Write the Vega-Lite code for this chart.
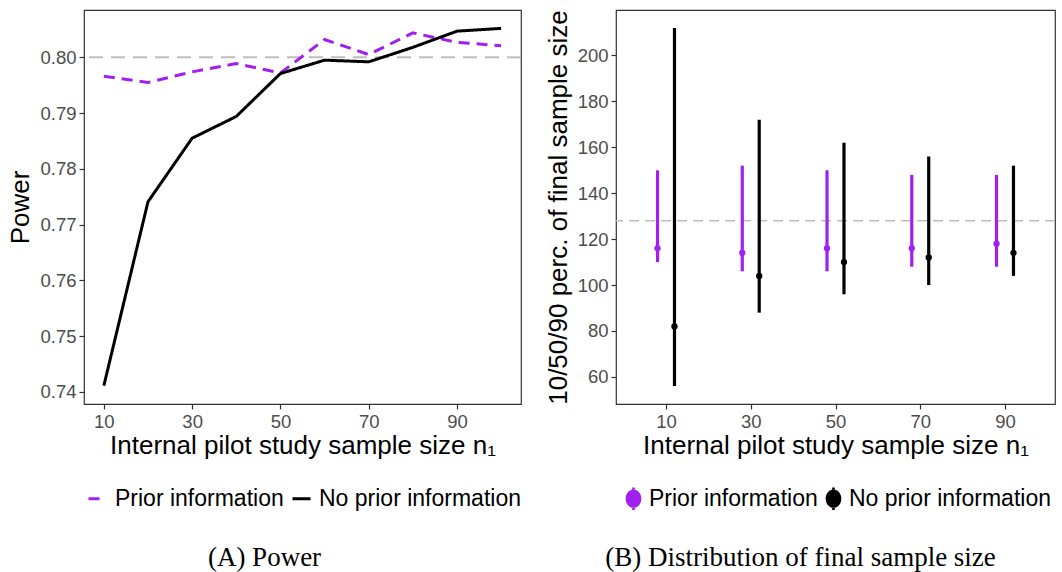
{
  "$schema": "https://vega.github.io/schema/vega-lite/v6.json",
  "autosize": {"type": "pad"},
  "padding": {"left": 7, "top": 9, "right": 0, "bottom": 0},
  "background": "white",
  "config": {
    "font": "Liberation Sans",
    "view": {"stroke": "#333333", "strokeWidth": 1.2},
    "axis": {
      "grid": false, "domain": false, "tickColor": "#333333", "tickSize": 5, "tickWidth": 1.2,
      "labelColor": "#4d4d4d", "labelFontSize": 18.5, "labelFont": "Liberation Sans", "labelPadding": 3,
      "titleColor": "#000000", "titleFontSize": 26, "titleFontWeight": "normal", "titleFont": "Liberation Sans"
    },
    "legend": {"labelFontSize": 23, "labelFont": "Liberation Sans", "labelColor": "#000000", "labelLimit": 400},
    "title": {"font": "Liberation Serif", "fontSize": 27, "fontWeight": "normal", "color": "#000000"}
  },
  "bounds": "flush",
  "spacing": 95,
  "resolve": {"scale": {"color": "independent", "strokeDash": "independent", "x": "independent", "y": "independent"}, "legend": {"color": "independent", "strokeDash": "independent"}},
  "hconcat": [
    {
      "width": 437,
      "height": 394,
      "title": {"text": "(A) Power", "orient": "bottom", "anchor": "middle", "frame": "group", "dx": -38, "offset": 34},
      "layer": [
        {
          "data": {"values": [{"ref": 0.8}]},
          "mark": {"type": "rule", "color": "#bebebe", "strokeWidth": 2, "strokeDash": [14, 8]},
          "encoding": {"y": {"field": "ref", "type": "quantitative"}}
        },
        {
          "data": {"values": [
            {"n1": 10, "power": 0.7966, "group": "Prior information"},
            {"n1": 20, "power": 0.7955, "group": "Prior information"},
            {"n1": 30, "power": 0.7974, "group": "Prior information"},
            {"n1": 40, "power": 0.7989, "group": "Prior information"},
            {"n1": 50, "power": 0.7972, "group": "Prior information"},
            {"n1": 60, "power": 0.8032, "group": "Prior information"},
            {"n1": 70, "power": 0.8005, "group": "Prior information"},
            {"n1": 80, "power": 0.8044, "group": "Prior information"},
            {"n1": 90, "power": 0.8027, "group": "Prior information"},
            {"n1": 100, "power": 0.8021, "group": "Prior information"},
            {"n1": 10, "power": 0.7411, "group": "No prior information"},
            {"n1": 20, "power": 0.7741, "group": "No prior information"},
            {"n1": 30, "power": 0.7855, "group": "No prior information"},
            {"n1": 40, "power": 0.7894, "group": "No prior information"},
            {"n1": 50, "power": 0.7971, "group": "No prior information"},
            {"n1": 60, "power": 0.7995, "group": "No prior information"},
            {"n1": 70, "power": 0.7992, "group": "No prior information"},
            {"n1": 80, "power": 0.8018, "group": "No prior information"},
            {"n1": 90, "power": 0.8047, "group": "No prior information"},
            {"n1": 100, "power": 0.8052, "group": "No prior information"}
          ]},
          "mark": {"type": "line", "strokeWidth": 3},
          "encoding": {
            "x": {"field": "n1", "type": "quantitative", "scale": {"domain": [5.5, 104.5], "nice": false, "zero": false},
                  "axis": {"values": [10, 30, 50, 70, 90], "title": "Internal pilot study sample size n₁", "titlePadding": 2}},
            "y": {"field": "power", "type": "quantitative", "scale": {"domain": [0.7378, 0.8085], "nice": false, "zero": false},
                  "axis": {"values": [0.74, 0.75, 0.76, 0.77, 0.78, 0.79, 0.80], "format": ".2f", "title": "Power", "titlePadding": 6}},
            "color": {"field": "group", "type": "nominal",
                      "scale": {"domain": ["Prior information", "No prior information"], "range": ["#a020f0", "#000000"]},
                      "legend": {"title": null, "orient": "none", "legendX": 2, "legendY": 477, "direction": "horizontal", "symbolType": "stroke", "symbolStrokeWidth": 3, "symbolSize": 324, "columnPadding": 2, "labelOffset": 6}},
            "strokeDash": {"field": "group", "type": "nominal",
                           "scale": {"domain": ["Prior information", "No prior information"], "range": [[11, 7], [1, 0]]},
                           "legend": {"title": null, "orient": "none", "legendX": 2, "legendY": 477, "direction": "horizontal", "symbolType": "stroke", "symbolStrokeWidth": 3, "symbolSize": 324, "columnPadding": 2, "labelOffset": 6}}
          }
        }
      ]
    },
    {
      "width": 439,
      "height": 394,
      "title": {"text": "(B) Distribution of final sample size", "orient": "bottom", "anchor": "middle", "frame": "group", "dx": -35, "offset": 34},
      "layer": [
        {
          "data": {"values": [{"ref": 128}]},
          "mark": {"type": "rule", "color": "#bebebe", "strokeWidth": 1.5, "strokeDash": [10, 6]},
          "encoding": {"y": {"field": "ref", "type": "quantitative"}}
        },
        {
          "data": {"name": "dist"},
          "mark": {"type": "rule", "strokeWidth": 3.2},
          "encoding": {
            "x": {"field": "pos", "type": "quantitative", "scale": {"domain": [-1.8, 101.8], "nice": false, "zero": false},
                  "axis": {"values": [10, 30, 50, 70, 90], "title": "Internal pilot study sample size n₁", "titlePadding": 2}},
            "y": {"field": "lo", "type": "quantitative", "scale": {"domain": [48.2, 219.8], "nice": false, "zero": false},
                  "axis": {"values": [60, 80, 100, 120, 140, 160, 180, 200], "title": "10/50/90 perc. of final sample size", "titlePadding": 6}},
            "y2": {"field": "hi"},
            "color": {"field": "group", "type": "nominal",
                      "scale": {"domain": ["Prior information", "No prior information"], "range": ["#a020f0", "#000000"]},
                      "legend": {"title": null, "orient": "none", "legendX": 6, "legendY": 477, "direction": "horizontal",
                                 "symbolType": "M-0.7,0A0.7,0.82 0 1 0 0.7,0A0.7,0.82 0 1 0 -0.7,0ZM-0.12,-1H0.12V-0.8H-0.12ZM-0.12,0.8H0.12V1H-0.12Z", "symbolSize": 500, "symbolStrokeWidth": 0, "symbolOpacity": 1, "columnPadding": 4, "labelOffset": 4}}
          }
        },
        {
          "data": {"name": "dist"},
          "mark": {"type": "point", "filled": true, "size": 40, "opacity": 1},
          "encoding": {
            "x": {"field": "pos", "type": "quantitative"},
            "y": {"field": "med", "type": "quantitative"},
            "color": {"field": "group", "type": "nominal",
                      "scale": {"domain": ["Prior information", "No prior information"], "range": ["#a020f0", "#000000"]},
                      "legend": {"title": null, "orient": "none", "legendX": 6, "legendY": 477, "direction": "horizontal",
                                 "symbolType": "M-0.7,0A0.7,0.82 0 1 0 0.7,0A0.7,0.82 0 1 0 -0.7,0ZM-0.12,-1H0.12V-0.8H-0.12ZM-0.12,0.8H0.12V1H-0.12Z", "symbolSize": 500, "symbolStrokeWidth": 0, "symbolOpacity": 1, "columnPadding": 4, "labelOffset": 4}}
          }
        }
      ]
    }
  ],
  "datasets": {
    "dist": [
      {"n1": 10, "pos": 8, "group": "Prior information", "lo": 110, "med": 116, "hi": 150},
      {"n1": 10, "pos": 12, "group": "No prior information", "lo": 56, "med": 82, "hi": 212},
      {"n1": 30, "pos": 28, "group": "Prior information", "lo": 106, "med": 114, "hi": 152},
      {"n1": 30, "pos": 32, "group": "No prior information", "lo": 88, "med": 104, "hi": 172},
      {"n1": 50, "pos": 48, "group": "Prior information", "lo": 106, "med": 116, "hi": 150},
      {"n1": 50, "pos": 52, "group": "No prior information", "lo": 96, "med": 110, "hi": 162},
      {"n1": 70, "pos": 68, "group": "Prior information", "lo": 108, "med": 116, "hi": 148},
      {"n1": 70, "pos": 72, "group": "No prior information", "lo": 100, "med": 112, "hi": 156},
      {"n1": 90, "pos": 88, "group": "Prior information", "lo": 108, "med": 118, "hi": 148},
      {"n1": 90, "pos": 92, "group": "No prior information", "lo": 104, "med": 114, "hi": 152}
    ]
  }
}
